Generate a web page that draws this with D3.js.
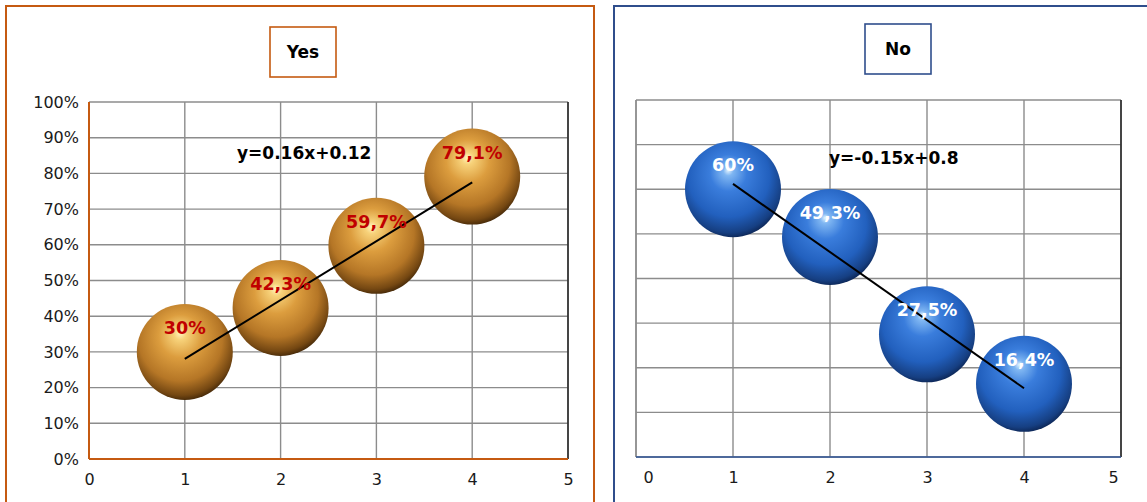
<!DOCTYPE html>
<html>
<head>
<meta charset="utf-8">
<script src="https://cdn.jsdelivr.net/npm/d3@7"></script>
<style>
  body { margin: 0; background: #ffffff; }
  svg { display: block; }
  text { font-family: "DejaVu Sans", Verdana, sans-serif; }
</style>
</head>
<body>
<svg id="chart" width="1147" height="502"></svg>
<script>
// ---- data ----
const xValues = [1, 2, 3, 4];
const yesValues = [0.30, 0.423, 0.597, 0.791];
const yesLabels = ["30%", "42,3%", "59,7%", "79,1%"];
const noValues = [0.60, 0.493, 0.275, 0.164];
const noLabels = ["60%", "49,3%", "27,5%", "16,4%"];
const xTicks = [0, 1, 2, 3, 4, 5];
const yesYTicks = [0, 0.1, 0.2, 0.3, 0.4, 0.5, 0.6, 0.7, 0.8, 0.9, 1.0];
const noYTicks = [0, 0.1, 0.2, 0.3, 0.4, 0.5, 0.6, 0.7, 0.8];
const yesEquation = "y=0.16x+0.12";
const noEquation = "y=-0.15x+0.8";

// ---- panel layout ----
const panels = [
  {
    title: "Yes", values: yesValues, labels: yesLabels, yTicks: yesYTicks, yMax: 1,
    equation: yesEquation, showYLabels: true,
    frame: { x: 6, y: 6, w: 588, h: 510, color: "#C55A11" },
    titleBox: { x: 270, y: 27, w: 66, h: 50 },
    plot: { x0: 89, x1: 568, y0: 102, y1: 459 },
    leftAxis: "#C55A11", bottomAxis: "#C55A11",
    eqPos: { x: 237, y: 153 },
    labelColor: "#C00000", grad: "gradGold",
    endNudge: [0, 0]
  },
  {
    title: "No", values: noValues, labels: noLabels, yTicks: noYTicks, yMax: 0.8,
    equation: noEquation, showYLabels: false,
    frame: { x: 614, y: 6, w: 560, h: 510, color: "#2F4E8C" },
    titleBox: { x: 865, y: 24, w: 66, h: 50 },
    plot: { x0: 636, x1: 1121, y0: 100, y1: 457 },
    leftAxis: "#8c8c8c", bottomAxis: "#2F5597",
    eqPos: { x: 829, y: 158 },
    labelColor: "#ffffff", grad: "gradBlue",
    endNudge: [12, -8]
  }
];

const svg = d3.select("#chart");
const defs = svg.append("defs");

function sphereGradient(id, stops) {
  const g = defs.append("radialGradient")
    .attr("id", id)
    .attr("cx", "0.46").attr("cy", "0.40").attr("r", "0.64")
    .attr("fx", "0.45").attr("fy", "0.30");
  stops.forEach(([o, c]) => g.append("stop").attr("offset", o).attr("stop-color", c));
}
sphereGradient("gradGold", [
  [0, "#fff6c4"], [0.10, "#f7d27a"], [0.35, "#dc9d3e"],
  [0.68, "#b57626"], [0.88, "#744712"], [1, "#2e1a04"]
]);
sphereGradient("gradBlue", [
  [0, "#e4f4ff"], [0.08, "#7fb6f2"], [0.30, "#3a7ddc"],
  [0.66, "#2260be"], [0.88, "#163f82"], [1, "#081a40"]
]);

// least-squares trend line through the points
function linearFit(xs, ys) {
  const n = xs.length;
  const mx = d3.mean(xs), my = d3.mean(ys);
  let sxy = 0, sxx = 0;
  for (let i = 0; i < n; i++) { sxy += (xs[i] - mx) * (ys[i] - my); sxx += (xs[i] - mx) ** 2; }
  const slope = sxy / sxx;
  return { slope, intercept: my - slope * mx };
}

const bubbleRadius = 48;

panels.forEach(p => {
  const g = svg.append("g");

  // outer frame
  g.append("rect")
    .attr("x", p.frame.x).attr("y", p.frame.y)
    .attr("width", p.frame.w).attr("height", p.frame.h)
    .attr("fill", "#ffffff").attr("stroke", p.frame.color).attr("stroke-width", 2);

  // title box
  g.append("rect")
    .attr("x", p.titleBox.x).attr("y", p.titleBox.y)
    .attr("width", p.titleBox.w).attr("height", p.titleBox.h)
    .attr("fill", "#ffffff").attr("stroke", p.frame.color).attr("stroke-width", 1.6);
  g.append("text")
    .attr("x", p.titleBox.x + p.titleBox.w / 2).attr("y", p.titleBox.y + p.titleBox.h / 2)
    .attr("text-anchor", "middle").attr("dominant-baseline", "central")
    .attr("font-size", 17).attr("font-weight", "bold").attr("fill", "#000")
    .text(p.title);

  const x = d3.scaleLinear().domain([0, 5]).range([p.plot.x0, p.plot.x1]);
  const y = d3.scaleLinear().domain([0, p.yMax]).range([p.plot.y1, p.plot.y0]);

  // grid
  g.append("g").selectAll("line.h").data(p.yTicks).join("line")
    .attr("x1", p.plot.x0).attr("x2", p.plot.x1)
    .attr("y1", d => y(d)).attr("y2", d => y(d))
    .attr("stroke", "#8c8c8c").attr("stroke-width", 1.4);
  g.append("g").selectAll("line.v").data(xTicks).join("line")
    .attr("x1", d => x(d)).attr("x2", d => x(d))
    .attr("y1", p.plot.y0).attr("y2", p.plot.y1)
    .attr("stroke", "#8c8c8c").attr("stroke-width", 1.4);

  // axis lines
  g.append("line").attr("x1", p.plot.x1).attr("x2", p.plot.x1)
    .attr("y1", p.plot.y0).attr("y2", p.plot.y1)
    .attr("stroke", "#222").attr("stroke-width", 1.5);
  g.append("line").attr("x1", p.plot.x0).attr("x2", p.plot.x0)
    .attr("y1", p.plot.y0).attr("y2", p.plot.y1)
    .attr("stroke", p.leftAxis).attr("stroke-width", p.showYLabels ? 2 : 1.4);
  g.append("line").attr("x1", p.plot.x0).attr("x2", p.plot.x1)
    .attr("y1", p.plot.y1).attr("y2", p.plot.y1)
    .attr("stroke", p.bottomAxis).attr("stroke-width", p.showYLabels ? 2.2 : 1.4);

  // x tick labels
  const xAxis = d3.axisBottom(x).tickValues(xTicks).tickSize(0).tickPadding(0).tickFormat(d3.format("d"));
  const xa = g.append("g").attr("transform", `translate(0,${p.plot.y1 + 20})`).call(xAxis);
  xa.select(".domain").remove();
  xa.selectAll("text")
    .attr("font-size", 16).attr("fill", "#1a1a1a").attr("font-family", "DejaVu Sans, sans-serif")
    .attr("dy", "0.35em")
    .attr("dx", d => d === 0 ? p.endNudge[0] : d === 5 ? p.endNudge[1] : 0);

  // y tick labels
  if (p.showYLabels) {
    const yAxis = d3.axisLeft(y).tickValues(p.yTicks).tickSize(0).tickPadding(0).tickFormat(d3.format(".0%"));
    const ya = g.append("g").attr("transform", `translate(${p.plot.x0 - 10},0)`).call(yAxis);
    ya.select(".domain").remove();
    ya.selectAll("text").attr("font-size", 16).attr("fill", "#1a1a1a")
      .attr("font-family", "DejaVu Sans, sans-serif");
  }

  // bubbles
  const pts = xValues.map((xv, i) => ({ x: xv, v: p.values[i], label: p.labels[i] }));
  g.append("g").selectAll("circle").data(pts).join("circle")
    .attr("cx", d => x(d.x)).attr("cy", d => y(d.v)).attr("r", bubbleRadius)
    .attr("fill", `url(#${p.grad})`);

  // trend line
  const fit = linearFit(xValues, p.values);
  const x1 = d3.min(xValues), x2 = d3.max(xValues);
  g.append("line")
    .attr("x1", x(x1)).attr("y1", y(fit.slope * x1 + fit.intercept))
    .attr("x2", x(x2)).attr("y2", y(fit.slope * x2 + fit.intercept))
    .attr("stroke", "#000").attr("stroke-width", 2);

  // equation
  g.append("text").attr("x", p.eqPos.x).attr("y", p.eqPos.y)
    .attr("dominant-baseline", "central")
    .attr("font-size", 17).attr("font-weight", "bold").attr("fill", "#000")
    .text(p.equation);

  // value labels
  g.append("g").selectAll("text").data(pts).join("text")
    .attr("x", d => x(d.x)).attr("y", d => y(d.v) - 24)
    .attr("text-anchor", "middle").attr("dominant-baseline", "central")
    .attr("font-size", 17.5).attr("font-weight", "bold").attr("fill", p.labelColor)
    .text(d => d.label);
});
</script>
</body>
</html>
